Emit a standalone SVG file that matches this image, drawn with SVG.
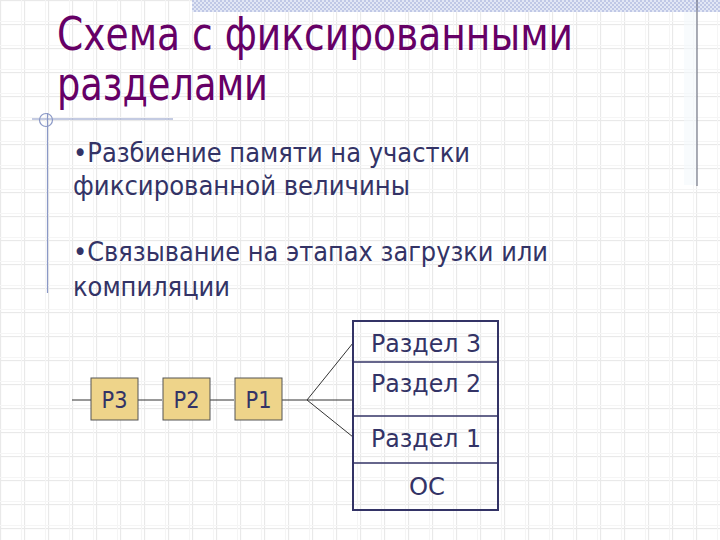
<svg xmlns="http://www.w3.org/2000/svg" width="720" height="540" viewBox="0 0 720 540">
  <defs>
    <pattern id="grid" width="24" height="24" patternUnits="userSpaceOnUse">
      <rect width="24" height="24" fill="#ffffff"/>
      <line x1="0.5" y1="0" x2="0.5" y2="24" stroke="#e9e9e9" stroke-width="1.2"/>
      <line x1="0" y1="0.5" x2="24" y2="0.5" stroke="#e9e9e9" stroke-width="1.2"/>
      <line x1="21.5" y1="0" x2="21.5" y2="24" stroke="#f5f5f5" stroke-width="1"/>
      <line x1="0" y1="21.5" x2="24" y2="21.5" stroke="#f5f5f5" stroke-width="1"/>
    </pattern>
    <pattern id="dots" width="4" height="4" patternUnits="userSpaceOnUse">
      <rect width="4" height="4" fill="#e2e7f5"/>
      <rect width="2" height="2" fill="#c0c8e6"/>
      <rect x="2" y="2" width="2" height="2" fill="#c0c8e6"/>
    </pattern>
    <style>
      .title { font-family: "DejaVu Sans", "Liberation Sans", sans-serif; font-size: 46px; fill: #660066; }
      .body { font-family: "DejaVu Sans", "Liberation Sans", sans-serif; font-size: 26px; fill: #333366; }
      .mem { font-family: "DejaVu Sans", "Liberation Sans", sans-serif; font-size: 25px; fill: #333366; }
      .plabel { font-family: "DejaVu Sans", "Liberation Sans", sans-serif; font-size: 23px; fill: #333366; text-anchor: middle; }
      .pbox { fill: #eed48a; stroke: #555555; stroke-width: 1; }
      .conn { stroke: #333333; stroke-width: 1; fill: none; }
      .deco { stroke: #8a98c6; stroke-width: 1.2; fill: none; }
    </style>
  </defs>

  <!-- background -->
  <rect x="0" y="0" width="720" height="540" fill="url(#grid)"/>
  <rect x="192" y="0" width="528" height="12" fill="url(#dots)"/>
  <rect x="684" y="12" width="13" height="173" fill="#f3f8fc" opacity="0.6"/>
  <line x1="697" y1="0" x2="697" y2="186" stroke="#5a5f70" stroke-width="1"/>

  <!-- left decoration -->
  <g id="decoration">
    <line class="deco" x1="32" y1="119" x2="173" y2="119"/>
    <line class="deco" x1="47.5" y1="113" x2="47.5" y2="293"/>
    <circle class="deco" cx="46" cy="120" r="6.5"/>
  </g>

  <!-- title -->
  <g id="title">
    <text class="title" x="57" y="50" textLength="516" lengthAdjust="spacingAndGlyphs">Схема с фиксированными</text>
    <text class="title" x="57" y="100" textLength="211" lengthAdjust="spacingAndGlyphs">разделами</text>
  </g>

  <!-- bullets -->
  <g id="bullets">
    <text class="body" x="73" y="162" textLength="397" lengthAdjust="spacingAndGlyphs">•Разбиение памяти на участки</text>
    <text class="body" x="73" y="195" textLength="337" lengthAdjust="spacingAndGlyphs">фиксированной величины</text>
    <text class="body" x="73" y="261" textLength="475" lengthAdjust="spacingAndGlyphs">•Связывание на этапах загрузки или</text>
    <text class="body" x="73" y="296" textLength="157" lengthAdjust="spacingAndGlyphs">компиляции</text>
  </g>

  <!-- connectors -->
  <g id="connectors">
    <line class="conn" x1="72" y1="400" x2="91" y2="400"/>
    <line class="conn" x1="138" y1="400" x2="162" y2="400"/>
    <line class="conn" x1="210" y1="400" x2="234" y2="400"/>
    <line class="conn" x1="282" y1="400" x2="307" y2="400"/>
    <line class="conn" x1="307" y1="400" x2="353" y2="343"/>
    <line class="conn" x1="307" y1="400" x2="353" y2="400"/>
    <line class="conn" x1="307" y1="400" x2="353" y2="437"/>
  </g>

  <!-- process boxes -->
  <g id="P3">
    <rect class="pbox" x="91" y="378" width="47" height="42"/>
    <text class="plabel" x="114.5" y="408" textLength="26" lengthAdjust="spacingAndGlyphs">P3</text>
  </g>
  <g id="P2">
    <rect class="pbox" x="163" y="378" width="47" height="42"/>
    <text class="plabel" x="186.5" y="408" textLength="26" lengthAdjust="spacingAndGlyphs">P2</text>
  </g>
  <g id="P1">
    <rect class="pbox" x="235" y="378" width="47" height="42"/>
    <text class="plabel" x="258.5" y="408" textLength="26" lengthAdjust="spacingAndGlyphs">P1</text>
  </g>

  <!-- memory -->
  <g id="memory">
    <rect x="353" y="321" width="145" height="189" fill="none" stroke="#333366" stroke-width="2"/>
    <line x1="353" y1="362" x2="498" y2="362" stroke="#333366" stroke-width="1.5"/>
    <line x1="353" y1="416" x2="498" y2="416" stroke="#333366" stroke-width="1.5"/>
    <line x1="353" y1="463" x2="498" y2="463" stroke="#333366" stroke-width="1.5"/>
    <text class="mem" x="371" y="352" textLength="110" lengthAdjust="spacingAndGlyphs">Раздел 3</text>
    <text class="mem" x="371" y="392" textLength="110" lengthAdjust="spacingAndGlyphs">Раздел 2</text>
    <text class="mem" x="371" y="447" textLength="110" lengthAdjust="spacingAndGlyphs">Раздел 1</text>
    <text class="mem" x="427" y="495" text-anchor="middle" textLength="36" lengthAdjust="spacingAndGlyphs">ОС</text>
  </g>
</svg>
